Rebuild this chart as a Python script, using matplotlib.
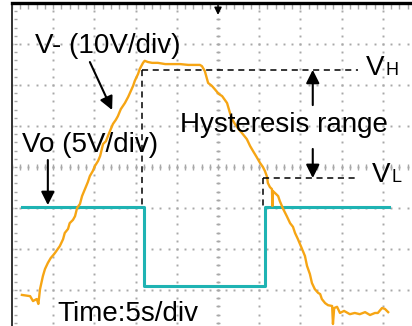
import numpy as np
import matplotlib
matplotlib.use("Agg")
import matplotlib.pyplot as plt
from matplotlib.collections import LineCollection

# ── Scope settings ─────────────────────────────────────────────
T_DIV = 5.0          # s/div
VM_DIV = 10.0        # V-/div
VO_DIV = 5.0         # Vo/div
ZERO_DIV = -3.0      # ground marker position (div from centre)

C_ORANGE = "#f6a514"
C_CYAN = "#1fb3b3"
C_GRID = "#a8a8a8"

# ── Data ───────────────────────────────────────────────────────
# V- (inverting input), time in s, voltage in V
t_vm = [1.2, 2.2, 2.55, 3.0, 3.2, 3.4, 3.75, 4.0, 4.35, 4.7, 5.0, 5.2, 5.8,
        6.2, 6.4, 6.8, 7.0, 7.4, 7.65, 7.9, 8.25, 8.5, 8.85, 9.2, 9.45,
        9.8, 10.05, 10.45, 10.7, 11.05, 11.4, 11.65, 12.0, 12.25, 12.6,
        12.85, 13.2, 13.7, 14.1, 14.3, 14.7, 14.9, 15.3, 15.5, 15.9, 16.1,
        16.5, 17.0, 17.7, 18.6, 19.4, 20.4, 21.4, 22.2, 22.8, 23.05, 23.4,
        23.8, 24.25, 24.6, 25.1, 25.5, 26.1, 26.45, 26.7, 27.05, 27.4,
        27.9, 28.5, 28.9, 29.25, 29.7, 30.1, 30.45, 30.7, 30.95, 31.05,
        31.3, 31.55, 31.6, 31.68, 32.05, 32.3, 32.5, 32.9, 33.35, 33.75,
        34.1, 34.35, 34.7, 35.2, 35.55, 35.8, 36.15, 36.4, 36.75, 37.15,
        37.4, 37.6, 38.0, 38.35, 38.85, 38.95, 39.1, 39.45, 39.8, 40.3,
        41.0, 41.6, 42.2, 42.85, 43.45, 44.05, 44.4, 44.9, 45.25, 45.65]
v_vm = [-1.2, -1.5, -2.7, -2.2, -3.4, 0.2, 3.4, 5.1, 6.6, 7.8, 8.5, 9.0, 10.7,
        12.4, 13.9, 14.9, 16.3, 17.1, 18.0, 20.0, 21.0, 22.9, 24.6, 26.3,
        27.8, 29.0, 30.2, 31.5, 32.7, 35.6, 36.3, 37.6, 39.3, 40.5, 41.5,
        42.4, 44.1, 45.6, 47.1, 48.0, 49.8, 51.0, 52.7, 53.9, 55.4, 55.9,
        55.6, 55.4, 55.4, 55.1, 55.1, 55.1, 54.9, 54.9, 54.9, 54.6, 53.4,
        50.5, 49.8, 49.0, 47.8, 47.3, 45.6, 43.2, 41.7, 40.5, 39.5, 38.3,
        36.8, 35.1, 33.9, 32.4, 31.0, 30.0, 29.0, 27.6, 26.1, 25.1, 24.6,
        20.5, 24.1, 23.4, 22.9, 21.7, 19.8, 18.0, 16.3, 15.4, 13.9, 12.4,
        10.0, 8.3, 5.9, 3.9, 1.7, 0.2, -0.7, -1.0, -2.2, -3.2, -3.7, -3.9,
        -8.3, -4.4, -4.1, -5.6, -5.1, -5.9, -5.6, -5.9, -5.4, -6.1, -5.6,
        -5.6, -4.4, -4.6, -5.4]

# Vo (comparator output)
t_vo = [1.2, 16.0, 16.0, 30.7, 30.7, 45.75]
v_vo = [10.1, 10.1, 0.5, 0.5, 10.1, 10.1]

# hysteresis thresholds
V_H, V_L = 53.7, 27.3
T_H, T_L = 15.8, 30.5
T_DASH_END = 42.0
T_RANGE = 36.5

plt.rcParams["font.family"] = ["Liberation Sans", "DejaVu Sans"]


def vm_div(v):
    return np.asarray(v) / VM_DIV + ZERO_DIV


def vo_div(v):
    return np.asarray(v) / VO_DIV + ZERO_DIV


fig = plt.figure(figsize=(4.12, 3.26), dpi=100)
ax = fig.add_axes([12 / 412, 0, 400 / 412, 323 / 326])
ax.set_xlim(0, 400 / 41.2)
ax.set_ylim((167 - 326) / 41, 4.0)
ax.set_xticks([])
ax.set_yticks([])
for s in ("right", "bottom"):
    ax.spines[s].set_visible(False)
ax.spines["top"].set_linewidth(2.4)
ax.spines["top"].set_color("black")
ax.spines["left"].set_linewidth(1.4)
ax.spines["left"].set_color("#333333")

# ── Graticule ──────────────────────────────────────────────────
steps_x = np.arange(0, 10.01, 0.2)
steps_y = np.arange(-4, 4.01, 0.2)
for gx in range(1, 10):
    ax.plot(np.full_like(steps_y, gx), steps_y, ls="none", marker="s",
            ms=1.4, mew=0, color=C_GRID, zorder=1)
for gy in range(-3, 4):
    ax.plot(steps_x, np.full_like(steps_x, gy), ls="none", marker="s",
            ms=1.4, mew=0, color=C_GRID, zorder=1)

ticks = []
ticks += [[(5 - 0.05, y), (5 + 0.05, y)] for y in steps_y]
ticks += [[(x, -0.07), (x, 0.07)] for x in steps_x]
ticks += [[(x, 4.0), (x, 3.85)] for x in steps_x]
ticks += [[(0.05, y), (0.13, y)] for y in steps_y]
ax.add_collection(LineCollection(ticks, colors=C_GRID, linewidths=1.0, zorder=1))

# ── Traces ─────────────────────────────────────────────────────
ax.plot(np.array(t_vo) / T_DIV, vo_div(v_vo), color=C_CYAN, lw=2.2, zorder=3)
ax.plot(np.array(t_vm) / T_DIV, vm_div(v_vm), color=C_ORANGE, lw=1.7, zorder=4)

# threshold guides
dash = dict(color="black", lw=1.1, ls=(0, (4, 3)), zorder=5)
ax.plot([T_H / T_DIV, T_DASH_END / T_DIV], [vm_div(V_H)] * 2, **dash)
ax.plot([T_L / T_DIV, T_DASH_END / T_DIV], [vm_div(V_L)] * 2, **dash)
ax.plot([T_H / T_DIV] * 2, [vm_div(V_H), vo_div(v_vo[0])], **dash)
ax.plot([T_L / T_DIV] * 2, [vm_div(V_L), vo_div(v_vo[-1])], **dash)

# ── Arrows ─────────────────────────────────────────────────────
arr = dict(arrowstyle="-|>", color="black", lw=1.5, mutation_scale=20,
           shrinkA=0, shrinkB=0)
ax.annotate("", xy=(2.43, 1.39), xytext=(1.89, 2.56), arrowprops=arr, zorder=6)
ax.annotate("", xy=(0.87, vo_div(v_vo[0]) + 0.05), xytext=(0.87, 0.17),
            arrowprops=arr, zorder=6)
ax.annotate("", xy=(T_RANGE / T_DIV, vm_div(V_H)), xytext=(T_RANGE / T_DIV, 1.51),
            arrowprops=arr, zorder=6)
ax.annotate("", xy=(T_RANGE / T_DIV, vm_div(V_L)), xytext=(T_RANGE / T_DIV, 0.44),
            arrowprops=arr, zorder=6)
ax.annotate("", xy=(5.0, 3.71), xytext=(5.0, 4.0),
            arrowprops=dict(arr, mutation_scale=11, lw=1.0), zorder=6)

# ── Labels ─────────────────────────────────────────────────────
fs = 20
ax.text(0.56, 2.78, "V- (10V/div)", fontsize=fs, va="baseline", zorder=7)
ax.text(0.24, 0.37, "Vo (5V/div)", fontsize=fs, va="baseline", zorder=7)
ax.text(4.08, 0.85, "Hysteresis range", fontsize=fs, va="baseline", zorder=7)
ax.text(1.09, -3.76, "Time:5s/div", fontsize=fs, va="baseline", zorder=7)
ax.text(8.60, 2.24, "V", fontsize=fs, va="baseline", zorder=7)
ax.text(9.07, 2.24, "H", fontsize=13, va="baseline", zorder=7)
ax.text(8.74, -0.37, "V", fontsize=fs, va="baseline", zorder=7)
ax.text(9.22, -0.37, "L", fontsize=13, va="baseline", zorder=7)

fig.savefig("out.png", dpi=100)
